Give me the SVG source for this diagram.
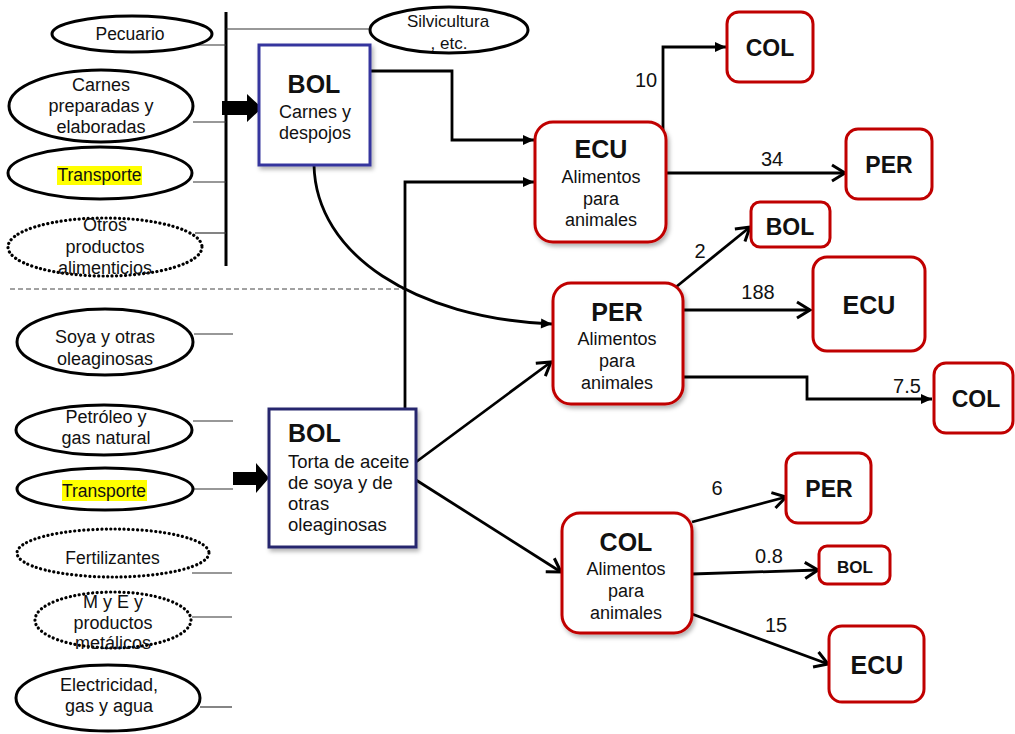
<svg xmlns="http://www.w3.org/2000/svg" width="1015" height="734" viewBox="0 0 1015 734">
<style>
text{font-family:"Liberation Sans",Arial,sans-serif;fill:#111;}
.t{font-size:18px;text-anchor:middle;}
.tl{font-size:18.5px;}
.big{font-size:25px;font-weight:bold;text-anchor:middle;}
.med{font-size:23px;font-weight:bold;text-anchor:middle;}
.num{font-size:20px;text-anchor:middle;}
.ell{fill:#fff;stroke:#000;stroke-width:3;}
.dot{fill:none;stroke:#000;stroke-width:3.2;stroke-dasharray:0.1 4.4;stroke-linecap:round;}
.thin{stroke:#333;stroke-width:1.2;fill:none;}
.red{fill:#fff;stroke:#C00000;stroke-width:3;}
.blue{fill:#fff;stroke:#36369E;stroke-width:3;}
.navy{fill:#fff;stroke:#28286E;stroke-width:3;}
.con{fill:none;stroke:#000;stroke-width:2.8;}
.hl{fill:#FFFF00;}
</style>
<defs>
<filter id="sh" x="-20%" y="-20%" width="150%" height="150%">
<feDropShadow dx="2" dy="3" stdDeviation="2" flood-color="#000" flood-opacity="0.3"/>
</filter>
<marker id="fa" viewBox="-12 -6 13 12" refX="0" refY="0" markerWidth="13" markerHeight="12" markerUnits="userSpaceOnUse" orient="auto">
<path d="M-11,-5 L0,0 L-11,5 z" fill="#000"/>
</marker>
<marker id="oa" viewBox="-16 -11 19 22" refX="0" refY="0" markerWidth="19" markerHeight="22" markerUnits="userSpaceOnUse" orient="auto" overflow="visible">
<path d="M-13,-8 L0,0 L-13,8" fill="none" stroke="#000" stroke-width="3"/>
</marker>
</defs>
<rect width="1015" height="734" fill="#fff"/>

<line x1="10" y1="289" x2="405" y2="289" stroke="#444" stroke-width="1" stroke-dasharray="5 3"/>
<line x1="226" y1="12" x2="226" y2="266" stroke="#000" stroke-width="3"/>

<g id="connectors">
<line class="thin" x1="185" y1="45" x2="226" y2="45"/>
<line class="thin" x1="193" y1="122" x2="226" y2="122"/>
<line class="thin" x1="193" y1="182" x2="226" y2="182"/>
<line class="thin" x1="195" y1="233" x2="226" y2="233"/>
<line class="thin" x1="226" y1="29" x2="371" y2="29"/>
<line class="thin" x1="194" y1="334" x2="233" y2="334"/>
<line class="thin" x1="193" y1="421" x2="233" y2="421"/>
<line class="thin" x1="193" y1="489" x2="233" y2="489"/>
<line class="thin" x1="192" y1="573" x2="232" y2="573"/>
<line class="thin" x1="192" y1="617" x2="232" y2="617"/>
<line class="thin" x1="200" y1="707" x2="232" y2="707"/>
<path d="M222,101 H247 V94 L262,108 L247,122 V115 H222 z" fill="#000"/>
<path d="M233,472 H256 V463 L269,478 L256,493 V485 H233 z" fill="#000"/>
<path class="con" d="M370,71 H452 V140 H534" marker-end="url(#fa)"/>
<path class="con" d="M405,409 V182 H534" marker-end="url(#fa)"/>
<path class="con" d="M314,165 C316,255 415,318 552,324" marker-end="url(#fa)"/>
<path class="con" d="M663,137 V47 H726" marker-end="url(#fa)"/>
<path class="con" d="M666,173 H845" marker-end="url(#oa)"/>
<path class="con" d="M676,287 L750,227" marker-end="url(#oa)"/>
<path class="con" d="M683,310 H810" marker-end="url(#oa)"/>
<path class="con" d="M683,377 H807 V399 H932" marker-end="url(#fa)"/>
<path class="con" d="M416,462 L551,362" marker-end="url(#oa)"/>
<path class="con" d="M416,480 L561,572" marker-end="url(#oa)"/>
<path class="con" d="M692,522 L786,497" marker-end="url(#oa)"/>
<path class="con" d="M692,574 L818,570" marker-end="url(#oa)"/>
<path class="con" d="M692,614 L828,664" marker-end="url(#oa)"/>
<text class="num" x="646" y="87">10</text>
<text class="num" x="772" y="166">34</text>
<text class="num" x="700" y="258">2</text>
<text class="num" x="758" y="299">188</text>
<text class="num" x="907" y="393">7.5</text>
<text class="num" x="717" y="495">6</text>
<text class="num" x="769" y="563">0.8</text>
<text class="num" x="776" y="632">15</text>
</g>

<g id="pecuario"><ellipse class="ell" cx="132" cy="34" rx="80" ry="18"/><text class="t" x="130" y="40" style="font-size:17.5px">Pecuario</text></g>
<g id="carnes"><ellipse class="ell" cx="101" cy="106" rx="92" ry="36"/><text class="t" x="101" y="91">Carnes</text><text class="t" x="101" y="112">preparadas y</text><text class="t" x="101" y="133">elaboradas</text></g>
<g id="transporte1"><ellipse class="ell" cx="100" cy="173" rx="92" ry="26"/><rect class="hl" x="57" y="166" width="85" height="19"/><text class="t" x="99.5" y="181" style="font-size:17.5px">Transporte</text></g>
<g id="otros"><ellipse class="dot" cx="105" cy="247" rx="97" ry="29"/><text class="t" x="105" y="231">Otros</text><text class="t" x="105" y="253">productos</text><text class="t" x="105" y="274">alimenticios</text></g>
<g id="silvicultura"><ellipse class="ell" cx="449" cy="30" rx="79" ry="23"/><text class="t" x="448" y="27" style="font-size:17px">Silvicultura</text><text class="t" x="449" y="49" style="font-size:17px">, etc.</text></g>

<g id="soya"><ellipse class="ell" cx="105" cy="342" rx="88" ry="33"/><text class="t" x="105" y="343">Soya y otras</text><text class="t" x="105" y="365">oleaginosas</text></g>
<g id="petroleo"><ellipse class="ell" cx="104" cy="430" rx="88" ry="25"/><text class="t" x="106" y="423">Petróleo y</text><text class="t" x="106" y="444">gas natural</text></g>
<g id="transporte2"><ellipse class="ell" cx="105" cy="489" rx="88" ry="21"/><rect class="hl" x="62" y="480" width="85" height="21"/><text class="t" x="104" y="497" style="font-size:17.5px">Transporte</text></g>
<g id="fertilizantes"><ellipse class="dot" cx="113" cy="553" rx="96" ry="24"/><text class="t" x="112.5" y="564" style="font-size:17.5px">Fertilizantes</text></g>
<g id="mye"><ellipse class="dot" cx="113" cy="620" rx="78" ry="28"/><text class="t" x="113" y="608">M y E y</text><text class="t" x="113" y="629">productos</text><text class="t" x="113" y="649">metálicos</text></g>
<g id="electricidad"><ellipse class="ell" cx="108" cy="698" rx="92" ry="33"/><text class="t" x="109" y="691">Electricidad,</text><text class="t" x="109" y="712">gas y agua</text></g>

<g id="bol-carnes"><rect class="blue" x="259" y="45" width="111" height="120" filter="url(#sh)"/><text class="big" x="314" y="93">BOL</text><text class="t" x="315" y="118">Carnes y</text><text class="t" x="315" y="139">despojos</text></g>
<g id="bol-torta"><rect class="navy" x="269" y="409" width="147" height="138" filter="url(#sh)"/><text class="big" x="288" y="442" style="text-anchor:start">BOL</text><text class="tl" x="288" y="468">Torta de aceite</text><text class="tl" x="288" y="489">de soya y de</text><text class="tl" x="288" y="510">otras</text><text class="tl" x="288" y="531">oleaginosas</text></g>

<g id="ecu-alim"><rect class="red" x="535" y="122" width="131" height="120" rx="18" filter="url(#sh)"/><text class="big" x="601" y="158">ECU</text><text class="t" x="601" y="183">Alimentos</text><text class="t" x="601" y="204.5">para</text><text class="t" x="601" y="226">animales</text></g>
<g id="per-alim"><rect class="red" x="553" y="283" width="130" height="121" rx="18" filter="url(#sh)"/><text class="big" x="617" y="321">PER</text><text class="t" x="617" y="345">Alimentos</text><text class="t" x="617" y="367">para</text><text class="t" x="617" y="389">animales</text></g>
<g id="col-alim"><rect class="red" x="562" y="513" width="130" height="120" rx="18" filter="url(#sh)"/><text class="big" x="626" y="551">COL</text><text class="t" x="626" y="575">Alimentos</text><text class="t" x="626" y="597">para</text><text class="t" x="626" y="619">animales</text></g>

<g id="col1"><rect class="red" x="727" y="12" width="86" height="70" rx="12"/><text class="med" x="770" y="56">COL</text></g>
<g id="per1"><rect class="red" x="846" y="129" width="86" height="70" rx="12"/><text class="med" x="889" y="173">PER</text></g>
<g id="bol1"><rect class="red" x="751" y="202" width="79" height="45" rx="9"/><text class="med" x="790" y="235">BOL</text></g>
<g id="ecu1"><rect class="red" x="813" y="257" width="112" height="94" rx="14"/><text class="big" x="869" y="314">ECU</text></g>
<g id="col2"><rect class="red" x="934" y="363" width="79" height="70" rx="12"/><text class="med" x="976" y="407">COL</text></g>
<g id="per2"><rect class="red" x="786" y="453" width="85" height="70" rx="12"/><text class="med" x="829" y="497">PER</text></g>
<g id="bol2"><rect class="red" x="819" y="546" width="71" height="38" rx="8"/><text x="855" y="573" style="font-size:17px;font-weight:bold;text-anchor:middle">BOL</text></g>
<g id="ecu2"><rect class="red" x="829" y="626" width="95" height="76" rx="13"/><text class="big" x="877" y="674">ECU</text></g>
</svg>
